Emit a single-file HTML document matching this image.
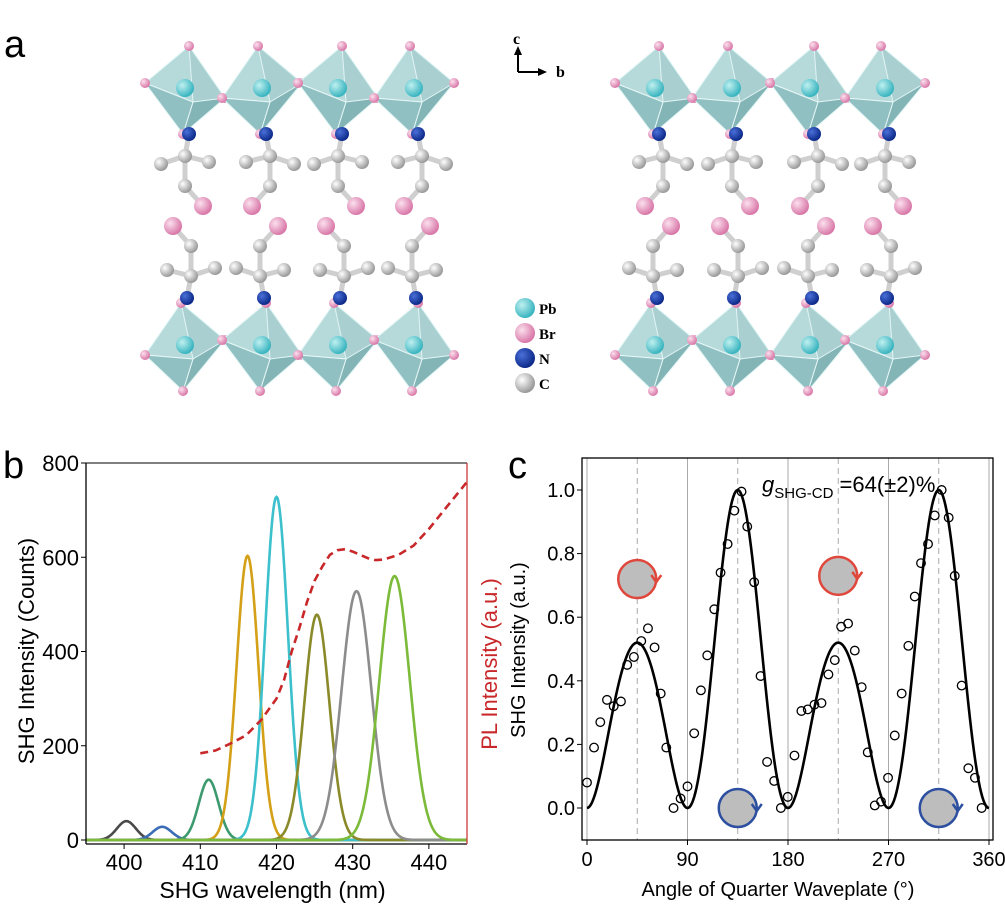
<!DOCTYPE html>
<html><head><meta charset="utf-8">
<style>
body{margin:0;background:#fff;}
svg{display:block;font-family:"Liberation Sans",sans-serif;}
</style></head>
<body>
<svg id="fig" width="1005" height="909" viewBox="0 0 1005 909">
<defs>
<radialGradient id="gPb" cx="35%" cy="35%" r="65%"><stop offset="0" stop-color="#bff0f0"/><stop offset="1" stop-color="#3ab5c0"/></radialGradient>
<radialGradient id="gBr" cx="35%" cy="35%" r="65%"><stop offset="0" stop-color="#fbe0ee"/><stop offset="1" stop-color="#d978a8"/></radialGradient>
<radialGradient id="gN" cx="35%" cy="35%" r="65%"><stop offset="0" stop-color="#4a70d8"/><stop offset="1" stop-color="#0d2a8a"/></radialGradient>
<radialGradient id="gC" cx="35%" cy="35%" r="65%"><stop offset="0" stop-color="#ffffff"/><stop offset="1" stop-color="#9a9a9a"/></radialGradient>
</defs>
<g id="panelA"></g>
<text x="4" y="57" font-size="38">a</text>
<g>
<line x1="518" y1="72" x2="518" y2="52" stroke="#000" stroke-width="2"/>
<polygon points="514,55 522,55 518,46" fill="#000"/>
<line x1="518" y1="72" x2="540" y2="72" stroke="#000" stroke-width="2"/>
<polygon points="538,68 538,76 547,72" fill="#000"/>
<text x="513" y="44" font-family="Liberation Serif,serif" font-weight="bold" font-size="16">c</text>
<text x="556" y="77" font-family="Liberation Serif,serif" font-weight="bold" font-size="16">b</text>
</g>
<g font-family="Liberation Serif,serif" font-weight="bold" font-size="15">
<circle cx="525" cy="308" r="10" fill="url(#gPb)"/><text x="539" y="314">Pb</text>
<circle cx="525" cy="333" r="10" fill="url(#gBr)"/><text x="539" y="339">Br</text>
<circle cx="525" cy="358" r="10" fill="url(#gN)"/><text x="539" y="364">N</text>
<circle cx="525" cy="383" r="10" fill="url(#gC)"/><text x="539" y="389">C</text>
</g>
<text x="3" y="478" font-size="38">b</text>
<g id="chartB"></g>
<text x="508" y="478" font-size="38">c</text>
<g id="chartC"></g>
</svg>
<script>
// ---- Panel b data ----
const peakCenters = [400.3, 405.0, 411.1, 416.2, 420.0, 425.3, 430.5, 435.5];
const peakHeights = [40, 28, 128, 603, 728, 478, 528, 560];
const peakSigmas = [1.25, 1.25, 1.3, 1.45, 1.5, 1.65, 1.95, 2.0];
const peakColors = ["#4a4a4a", "#3a6db5", "#3c9a6e", "#d4a017", "#3cc0cc", "#8a8a2a", "#8c8c8c", "#7cba3a"];
const plWavelengths = [410, 412, 414, 416, 418, 420, 421, 422, 423, 424, 425, 426, 427, 428, 429, 430, 431, 432, 433, 434, 436, 438, 440, 442, 444, 445];
const plValues = [184, 190, 205, 222, 255, 300, 340, 400, 450, 505, 550, 580, 605, 615, 617, 612, 605, 598, 594, 595, 605, 625, 660, 700, 740, 760];
const bXTicks = [400, 410, 420, 430, 440];
const bYTicks = [0, 200, 400, 600, 800];

// ---- Panel c data ----
const angles = [0,6.3,11.9,17.9,23.9,30.4,36,42,48.6,54.6,60.5,66,71,77.5,83.8,90,96,102,107.7,114,119.6,125.9,132,138.4,143.5,149.7,155.4,161.3,167.6,173.6,179.8,185.8,192,197.7,203.7,210,216.2,221.9,227.6,233.8,239.8,246,251.4,257.7,263.3,269.6,275.6,281.8,287.8,293.5,299.1,305.4,311.4,317.6,323.9,329.3,335.5,341.5,347.4,353.4];
const intensities = [0.08,0.19,0.27,0.34,0.32,0.335,0.45,0.475,0.525,0.565,0.505,0.36,0.19,0.0,0.03,0.068,0.235,0.37,0.48,0.625,0.74,0.83,0.935,0.995,0.885,0.71,0.415,0.145,0.085,0.0,0.035,0.165,0.305,0.31,0.325,0.33,0.42,0.465,0.57,0.58,0.495,0.38,0.175,0.008,0.02,0.095,0.228,0.36,0.51,0.665,0.77,0.83,0.92,1.0,0.913,0.73,0.385,0.125,0.095,0.0];
const fitParams = [0.76, -0.24]; // y = sin^2(2θ)*(a + b*sin(2θ))
const cXTicks = [0, 90, 180, 270, 360];
const cYTicks = ["0.0", "0.2", "0.4", "0.6", "0.8", "1.0"];

const NS = "http://www.w3.org/2000/svg";
function mk(tag, attrs, parent) {
  const e = document.createElementNS(NS, tag);
  for (const k in attrs) e.setAttribute(k, attrs[k]);
  parent.appendChild(e);
  return e;
}

// ================= Panel a =================
const A = document.getElementById('panelA');
function octa(cx, cy, flip) {
  const g = mk('g', {}, A);
  
  
  const s = flip ? -1 : 1;
  const top = [cx + 4 * s, cy - 42], bot = [cx - 2, cy + 46];
  const l = [cx - 40, cy + (flip ? 10 : -5)], r = [cx + 40, cy + (flip ? -5 : 10)];
  const f = [cx + 8, cy + 14];
  const P = p => p.join(',');
  mk('polygon', {points: [top, l, bot, r].map(P).join(' '), fill: '#a9cfd0', stroke: '#d9f3f3', 'stroke-width': 1}, g);
  mk('polygon', {points: [top, l, f].map(P).join(' '), fill: '#b8dcdc', stroke: '#e8f8f8', 'stroke-width': 1, opacity: 0.9}, g);
  mk('polygon', {points: [bot, r, f].map(P).join(' '), fill: '#7fb2b4', stroke: '#e8f8f8', 'stroke-width': 1, opacity: 0.9}, g);
  mk('polygon', {points: [bot, l, f].map(P).join(' '), fill: '#8fbfc1', stroke: '#e8f8f8', 'stroke-width': 1, opacity: 0.9}, g);
  mk('circle', {cx: cx, cy: cy, r: 9, fill: 'url(#gPb)'}, g);
  [top, bot, l, r].forEach(p => mk('circle', {cx: p[0], cy: p[1], r: 5, fill: 'url(#gBr)'}, g));
  return bot;
}
function chain(nx, ny, dir, mirror) {
  const g = mk('g', {}, A);
  
  
  const m = mirror ? -1 : 1;
  const c1 = [nx + 4 * m, ny + 22 * dir], c2 = [nx + 28 * m, ny + 30 * dir], c3 = [nx + 4 * m, ny + 52 * dir], br = [nx - 14 * m, ny + 72 * dir];
  const c0 = [nx - 20 * m, ny + 28 * dir];
  [[[nx, ny], c1], [c1, c2], [c1, c0], [c1, c3], [c3, br]].forEach(([a, b]) => mk('line', {x1: a[0], y1: a[1], x2: b[0], y2: b[1], stroke: '#cfcfcf', 'stroke-width': 5}, g));
  mk('circle', {cx: nx, cy: ny, r: 7, fill: 'url(#gN)'}, g);
  [c1, c2, c3, c0].forEach(p => mk('circle', {cx: p[0], cy: p[1], r: 7, fill: 'url(#gC)'}, g));
  mk('circle', {cx: br[0], cy: br[1], r: 9, fill: 'url(#gBr)'}, g);
}
[[185, 262, 338, 414], [655, 732, 810, 885]].forEach((xs, si) => {
  xs.forEach((x, i) => {
    octa(x, 88, i % 2 === 1);
    chain(x + 4, 134, 1, (i + si) % 2 === 0);
    octa(x, 345, i % 2 === 0);
    chain(x + 2, 298, -1, (i + si) % 2 === 1);
  });
});

// ================= Panel b =================
const B = document.getElementById('chartB');
const bL = 86, bR = 467, bT = 463, bB = 840;
const bx = w => bL + (w - 395) / (445 - 395) * (bR - bL);
const by = v => bB - v / 800 * (bB - bT);
peakCenters.forEach((c, i) => {
  let d = '';
  for (let w = 395; w <= 445.001; w += 0.1) {
    const v = peakHeights[i] * Math.exp(-0.5 * Math.pow((w - c) / peakSigmas[i], 2));
    d += (d ? 'L' : 'M') + bx(w).toFixed(2) + ',' + by(v).toFixed(2);
  }
  const p = mk('path', {d: d, fill: 'none', stroke: peakColors[i], 'stroke-width': 2.6}, B);
  
  
});
{
  let d = plWavelengths.map((w, i) => (i ? 'L' : 'M') + bx(w).toFixed(1) + ',' + by(plValues[i]).toFixed(1)).join('');
  const p = mk('path', {d: d, fill: 'none', stroke: '#c8282a', 'stroke-width': 2.6, 'stroke-dasharray': '8,5', 'stroke-linejoin': 'round'}, B);
  
  
}
mk('line', {x1: bL, y1: bT, x2: bL, y2: bB + 4, stroke: '#000', 'stroke-width': 1.3}, B);
mk('line', {x1: bL, y1: bB + 4, x2: bR, y2: bB + 4, stroke: '#000', 'stroke-width': 1.3}, B);
mk('line', {x1: bL, y1: bT, x2: bR, y2: bT, stroke: '#000', 'stroke-width': 1}, B);
mk('line', {x1: bR, y1: bT, x2: bR, y2: bB + 4, stroke: '#c8282a', 'stroke-width': 1.2}, B);
bYTicks.forEach(v => {
  mk('line', {x1: bL - 5, y1: by(v), x2: bL, y2: by(v), stroke: '#000'}, B);
  const t = mk('text', {x: bL - 7, y: by(v) + 8, 'text-anchor': 'end', 'font-size': 22}, B);
  t.textContent = v;
  
  
});
bXTicks.forEach(w => {
  mk('line', {x1: bx(w), y1: bB + 4, x2: bx(w), y2: bB + 9, stroke: '#000'}, B);
  const t = mk('text', {x: bx(w), y: bB + 30, 'text-anchor': 'middle', 'font-size': 22}, B);
  t.textContent = w;
  
  
});
{
  let t = mk('text', {x: 0, y: 0, 'text-anchor': 'middle', 'font-size': 22, transform: 'translate(34,651) rotate(-90)'}, B);
  t.textContent = 'SHG Intensity (Counts)';
  
  
  t = mk('text', {x: 0, y: 0, 'text-anchor': 'middle', 'font-size': 22, fill: '#c8282a', transform: 'translate(497,664) rotate(-90)'}, B);
  t.textContent = 'PL Intensity (a.u.)';
  
  
  t = mk('text', {x: (bL + bR) / 2 - 4, y: 898, 'text-anchor': 'middle', 'font-size': 23}, B);
  t.textContent = 'SHG wavelength (nm)';
  
  
}

// ================= Panel c =================
const C = document.getElementById('chartC');
const cL = 582, cR = 993, cT = 458, cB = 840;
const cx = a => 587 + a / 360 * (989 - 587);
const cy = v => 808 - v * (808 - 490);
[0, 90, 180, 270, 360].forEach(a => mk('line', {x1: cx(a), y1: cT, x2: cx(a), y2: cB, stroke: '#aaa', 'stroke-width': 1}, C));
[45, 135, 225, 315].forEach(a => mk('line', {x1: cx(a), y1: cT, x2: cx(a), y2: cB, stroke: '#aaa', 'stroke-width': 1, 'stroke-dasharray': '6,4'}, C));
{
  let d = '';
  for (let a = 0; a <= 360; a += 1) {
    const s = Math.sin(2 * a * Math.PI / 180);
    const v = s * s * (fitParams[0] + fitParams[1] * s);
    d += (d ? 'L' : 'M') + cx(a).toFixed(2) + ',' + cy(v).toFixed(2);
  }
  const p = mk('path', {d: d, fill: 'none', stroke: '#000', 'stroke-width': 2.6}, C);
  
  
}
angles.forEach((a, i) => {
  const c = mk('circle', {cx: cx(a), cy: cy(intensities[i]), r: 4.3, fill: 'none', stroke: '#000', 'stroke-width': 1.3}, C);
  
  
});
function pol(a, v, col, name) {
  const g = mk('g', {}, C);
  
  
  const x = cx(a), y = cy(v);
  mk('circle', {cx: x, cy: y, r: 19, fill: '#bdbdbd', stroke: col, 'stroke-width': 2.5}, g);
  mk('polyline', {points: (x + 14) + ',' + (y - 4) + ' ' + (x + 19) + ',' + (y + 3) + ' ' + (x + 24) + ',' + (y - 4), fill: 'none', stroke: col, 'stroke-width': 2.5}, g);
}
pol(45, 0.72, '#e0473c', 'right-circular-icon');
pol(225, 0.73, '#e0473c', 'right-circular-icon');
pol(135, 0.0, '#2d4fa0', 'left-circular-icon');
pol(315, 0.0, '#2d4fa0', 'left-circular-icon');
mk('rect', {x: cL, y: cT, width: cR - cL, height: cB - cT, fill: 'none', stroke: '#000', 'stroke-width': 1.3}, C);
cYTicks.forEach(v => {
  mk('line', {x1: cL - 5, y1: cy(+v), x2: cL, y2: cy(+v), stroke: '#000'}, C);
  const t = mk('text', {x: cL - 7, y: cy(+v) + 7, 'text-anchor': 'end', 'font-size': 20}, C);
  t.textContent = v;
  
  
});
cXTicks.forEach(a => {
  mk('line', {x1: cx(a), y1: cB, x2: cx(a), y2: cB + 5, stroke: '#000'}, C);
  const t = mk('text', {x: cx(a), y: cB + 26, 'text-anchor': 'middle', 'font-size': 20}, C);
  t.textContent = a;
  
  
});
{
  let t = mk('text', {x: 0, y: 0, 'text-anchor': 'middle', 'font-size': 20, transform: 'translate(525,650) rotate(-90)'}, C);
  t.textContent = 'SHG Intensity (a.u.)';
  
  
  t = mk('text', {x: 778, y: 896, 'text-anchor': 'middle', 'font-size': 20}, C);
  t.textContent = 'Angle of Quarter Waveplate (°)';
  
  
  t = mk('text', {x: 762, y: 492, 'font-size': 22}, C);
  t.innerHTML = '<tspan font-style="italic">g</tspan><tspan font-size="15" dy="6">SHG-CD</tspan><tspan dy="-6"> =64(±2)%</tspan>';
  
  
}
</script>
</body></html>
